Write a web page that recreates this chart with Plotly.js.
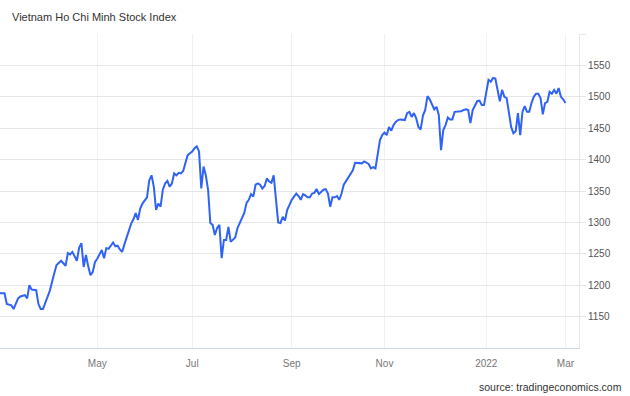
<!DOCTYPE html>
<html>
<head>
<meta charset="utf-8">
<script src="https://cdn.plot.ly/plotly-3.0.1.min.js"></script>
<style>
  html, body { margin: 0; padding: 0; background: #ffffff; }
  #chart { width: 630px; height: 396px; }
</style>
</head>
<body>
<div id="chart"></div>
<script>
// ---- Data ----
const dates = [
  '2021-03-01','2021-03-03','2021-03-04','2021-03-08','2021-03-09','2021-03-11','2021-03-12','2021-03-16','2021-03-17','2021-03-18',
  '2021-03-19','2021-03-23','2021-03-24','2021-03-25','2021-03-26','2021-03-30','2021-03-31','2021-04-02','2021-04-05','2021-04-07',
  '2021-04-08','2021-04-09','2021-04-12','2021-04-13','2021-04-14','2021-04-15','2021-04-16','2021-04-19','2021-04-20','2021-04-22',
  '2021-04-23','2021-04-26','2021-04-27','2021-04-28','2021-04-29','2021-05-04','2021-05-05','2021-05-06','2021-05-07','2021-05-10',
  '2021-05-11','2021-05-12','2021-05-13','2021-05-14','2021-05-17','2021-05-18','2021-05-19','2021-05-20','2021-05-21','2021-05-24',
  '2021-05-25','2021-05-26','2021-05-27','2021-05-28','2021-05-31','2021-06-01','2021-06-02','2021-06-03','2021-06-04','2021-06-07',
  '2021-06-08','2021-06-09','2021-06-10','2021-06-11','2021-06-14','2021-06-15','2021-06-16','2021-06-17','2021-06-18','2021-06-21',
  '2021-06-22','2021-06-23','2021-06-24','2021-06-25','2021-06-28','2021-06-29','2021-06-30','2021-07-01','2021-07-02','2021-07-05',
  '2021-07-06','2021-07-07','2021-07-08','2021-07-09','2021-07-12','2021-07-13','2021-07-14','2021-07-15','2021-07-16','2021-07-19',
  '2021-07-20','2021-07-21','2021-07-22','2021-07-23','2021-07-26','2021-07-27','2021-07-28','2021-07-29','2021-07-30','2021-08-02',
  '2021-08-03','2021-08-04','2021-08-05','2021-08-06','2021-08-09','2021-08-10','2021-08-11','2021-08-12','2021-08-13','2021-08-16',
  '2021-08-17','2021-08-18','2021-08-19','2021-08-20','2021-08-23','2021-08-24','2021-08-25','2021-08-26','2021-08-27','2021-08-30',
  '2021-08-31','2021-09-01','2021-09-07','2021-09-08','2021-09-09','2021-09-10','2021-09-13','2021-09-14','2021-09-15','2021-09-16',
  '2021-09-17','2021-09-20','2021-09-21','2021-09-22','2021-09-23','2021-09-24','2021-09-27','2021-09-28','2021-09-29','2021-09-30',
  '2021-10-01','2021-10-04','2021-10-05','2021-10-06','2021-10-07','2021-10-08','2021-10-11','2021-10-12','2021-10-13','2021-10-14',
  '2021-10-18','2021-10-19','2021-10-20','2021-10-21','2021-10-22','2021-10-25','2021-10-26','2021-10-27','2021-10-28','2021-10-29',
  '2021-11-01','2021-11-02','2021-11-03','2021-11-04','2021-11-05','2021-11-08','2021-11-09','2021-11-10','2021-11-11','2021-11-12',
  '2021-11-15','2021-11-16','2021-11-17','2021-11-18','2021-11-19','2021-11-22','2021-11-23','2021-11-24','2021-11-25','2021-11-26',
  '2021-11-29','2021-11-30','2021-12-01','2021-12-02','2021-12-03','2021-12-06','2021-12-07','2021-12-08','2021-12-09','2021-12-10',
  '2021-12-13','2021-12-14','2021-12-15','2021-12-16','2021-12-17','2021-12-20','2021-12-21','2021-12-22','2021-12-23','2021-12-24',
  '2021-12-27','2021-12-28','2021-12-29','2021-12-30','2021-12-31','2022-01-04','2022-01-05','2022-01-06','2022-01-07','2022-01-10',
  '2022-01-11','2022-01-12','2022-01-13','2022-01-14','2022-01-17','2022-01-18','2022-01-19','2022-01-20','2022-01-21','2022-01-24',
  '2022-01-25','2022-01-26','2022-01-27','2022-01-28','2022-02-07','2022-02-08','2022-02-09','2022-02-10','2022-02-11','2022-02-14',
  '2022-02-15','2022-02-16','2022-02-17','2022-02-18','2022-02-21','2022-02-22','2022-02-23','2022-02-24','2022-02-25','2022-02-28',
  '2022-03-01'
];
const values = [
  1187,1187,1170,1168,1162,1179,1182,1184,1179,1200,
  1193,1192,1170,1162,1162,1182,1191,1219,1232,1239,
  1235,1231,1251,1249,1253,1245,1239,1260,1267,1229,
  1248,1230,1216,1221,1237,1242,1250,1256,1243,1259,
  1258,1264,1268,1262,1263,1257,1253,1265,1277,1288,
  1298,1305,1315,1304,1322,1330,1336,1340,1367,1375,
  1357,1320,1330,1325,1352,1362,1366,1357,1362,1378,
  1375,1379,1378,1382,1395,1407,1410,1413,1418,1421,
  1413,1354,1389,1375,1352,1299,1296,1280,1291,1296,
  1243,1272,1272,1293,1269,1273,1276,1291,1300,1309,
  1315,1331,1336,1345,1341,1360,1362,1360,1354,1358,
  1370,1365,1363,1375,1341,1300,1299,1309,1303,1320,
  1328,1336,1346,1342,1336,1345,1343,1340,1340,1346,
  1347,1353,1345,1349,1352,1353,1346,1325,1340,1340,
  1342,1336,1346,1360,1366,1370,1376,1383,1395,1395,
  1394,1397,1395,1393,1386,1388,1386,1410,1431,1439,
  1443,1439,1452,1446,1455,1460,1463,1464,1463,1463,
  1474,1476,1468,1474,1466,1452,1448,1470,1479,1501,
  1496,1487,1480,1484,1471,1415,1447,1455,1467,1464,
  1464,1476,1476,1476,1477,1479,1480,1479,1458,1479,
  1487,1493,1494,1487,1487,1508,1527,1524,1530,1529,
  1511,1493,1511,1500,1498,1476,1452,1442,1445,1474,
  1439,1476,1485,1476,1476,1490,1500,1505,1505,1498,
  1472,1490,1492,1508,1505,1511,1505,1514,1500,1496,
  1490
];
// market holidays (no trading) inside the shown period
const holidays = [
  '2021-04-21','2021-04-30','2021-05-03','2021-09-02','2021-09-03',
  '2022-01-03','2022-01-31','2022-02-01','2022-02-02','2022-02-03','2022-02-04'
];
const xTickDates = ['2021-05-04','2021-07-01','2021-09-01','2021-11-01','2022-01-04','2022-03-01'];
const xTickLabels = ['May','Jul','Sep','Nov','2022','Mar'];
const yTickValues = [1150,1200,1250,1300,1350,1400,1450,1500,1550,1600];
const yTickLabels = ['1150','1200','1250','1300','1350','1400','1450','1500','1550',''];
const titleText = 'Vietnam Ho Chi Minh Stock Index';
const sourceText = 'source: tradingeconomics.com';

// ---- Chart ----
const FONT = 'Liberation Sans, Arial, Helvetica, sans-serif';

const trace = {
  x: dates,
  y: values,
  type: 'scatter',
  mode: 'lines',
  line: { color: '#2f63f5', width: 2 },
  hoverinfo: 'skip'
};

const layout = {
  width: 630,
  height: 396,
  margin: { l: 0, r: 51, t: 34, b: 48 },
  paper_bgcolor: '#ffffff',
  plot_bgcolor: '#ffffff',
  showlegend: false,
  font: { family: FONT, size: 10, color: '#666666' },
  title: {
    text: titleText,
    font: { family: FONT, size: 11, color: '#333333' },
    xref: 'container', yref: 'container',
    x: 12 / 630, xanchor: 'left',
    y: 1 - 17 / 396, yanchor: 'middle'
  },
  xaxis: {
    type: 'date',
    range: ['2021-03-01', '2022-03-09'],
    rangebreaks: [
      { bounds: ['sat', 'mon'] },
      { values: holidays }
    ],
    tickmode: 'array',
    tickvals: xTickDates,
    ticktext: xTickLabels,
    ticks: '',
    ticklabelstandoff: 6,
    showgrid: true,
    gridcolor: '#eef1f6',
    gridwidth: 1,
    showline: true,
    linecolor: '#ccd6eb',
    linewidth: 1,
    zeroline: false,
    tickfont: { family: FONT, size: 10, color: '#777777' },
    fixedrange: true
  },
  yaxis: {
    side: 'right',
    range: [1100, 1600],
    tickmode: 'array',
    tickvals: yTickValues,
    ticktext: yTickLabels,
    ticks: 'outside',
    ticklen: 6,
    tickcolor: '#e6e6e6',
    showgrid: true,
    gridcolor: '#e6e6e6',
    gridwidth: 1,
    showline: true,
    linecolor: '#e6e6e6',
    linewidth: 1,
    zeroline: false,
    tickfont: { family: FONT, size: 10, color: '#555555' },
    fixedrange: true
  },
  annotations: [
    {
      text: sourceText,
      xref: 'paper', yref: 'paper',
      x: 624 / 579, xanchor: 'right',
      y: (348 - 387) / 314, yanchor: 'middle',
      showarrow: false,
      font: { family: FONT, size: 10.5, color: '#333333' }
    }
  ]
};

Plotly.newPlot('chart', [trace], layout, { displayModeBar: false, staticPlot: true });
</script>
</body>
</html>
